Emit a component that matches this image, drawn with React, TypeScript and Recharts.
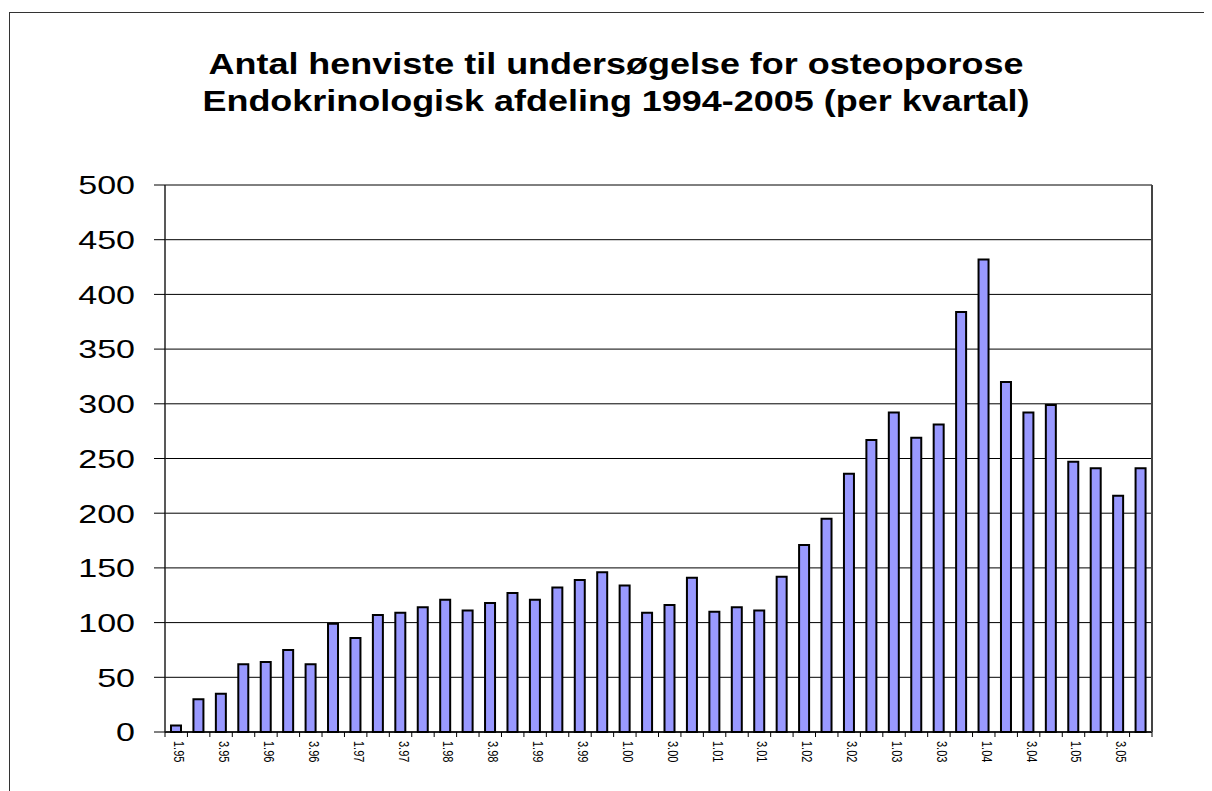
import { BarChart, Bar, XAxis, YAxis, CartesianGrid } from "recharts";

// kvartaler 1995-2005
const quarters = [
  "1.95", "2.95", "3.95", "4.95",
  "1.96", "2.96", "3.96", "4.96",
  "1.97", "2.97", "3.97", "4.97",
  "1.98", "2.98", "3.98", "4.98",
  "1.99", "2.99", "3.99", "4.99",
  "1.00", "2.00", "3.00", "4.00",
  "1.01", "2.01", "3.01", "4.01",
  "1.02", "2.02", "3.02", "4.02",
  "1.03", "2.03", "3.03", "4.03",
  "1.04", "2.04", "3.04", "4.04",
  "1.05", "2.05", "3.05", "4.05",
];

const referrals = [
  6, 30, 35, 62, 64, 75, 62, 99, 86, 107, 109, 114, 121, 111, 118, 127, 121,
  132, 139, 146, 134, 109, 116, 141, 110, 114, 111, 142, 171, 195, 236, 267,
  292, 269, 281, 384, 432, 320, 292, 299, 247, 241, 216, 241,
];

const yTicks = [0, 50, 100, 150, 200, 250, 300, 350, 400, 450, 500];

const titleLines = [
  "Antal henviste til undersøgelse for osteoporose",
  "Endokrinologisk afdeling 1994-2005 (per kvartal)",
];

const data = quarters.map((q, i) => ({ q, n: referrals[i] }));

const PLOT_LEFT = 165;
const PLOT_RIGHT = 1152;
const PLOT_TOP = 185;
const PLOT_BOTTOM = 732;
const BAND = (PLOT_RIGHT - PLOT_LEFT) / quarters.length;
const FONT = "'Liberation Sans', Arial, sans-serif";

const YTick = ({ x, y, payload }: any) => (
  <text
    transform={`translate(${x},${y}) scale(1.31,1)`}
    textAnchor="end"
    dy="0.36em"
    fontSize={26}
    fontFamily={FONT}
    fill="#000"
  >
    {payload.value}
  </text>
);

const XTick = ({ x, y, payload, index }: any) => {
  const right = x + BAND / 2;
  return (
    <g>
      {index === 0 && (
        <line x1={x - BAND / 2} x2={x - BAND / 2} y1={y} y2={y + 5} stroke="#000" />
      )}
      <line x1={right} x2={right} y1={y} y2={y + 5} stroke="#000" />
      {index % 2 === 0 && (
        <text
          transform={`translate(${x - 2},${y + 9}) scale(1.25,1) rotate(90)`}
          fontSize={11}
          fontFamily={FONT}
          fill="#000"
        >
          {payload.value}
        </text>
      )}
    </g>
  );
};

export default function App() {
  return (
    <div
      style={{
        position: "fixed",
        left: 0,
        top: 0,
        width: 1212,
        height: 791,
        background: "#fff",
        overflow: "hidden",
      }}
    >
      <div
        style={{
          position: "absolute",
          left: 9,
          top: 12,
          width: 1194,
          height: 800,
          borderLeft: "1.5px solid #333",
          borderTop: "1.5px solid #333",
        }}
      />
      <svg
        width={1212}
        height={140}
        style={{ position: "absolute", left: 0, top: 0 }}
      >
        {titleLines.map((line, i) => (
          <text
            key={line}
            transform={`translate(616,${74 + i * 37}) scale(1.24,1)`}
            textAnchor="middle"
            fontSize={29}
            fontWeight="bold"
            fontFamily={FONT}
            fill="#000"
          >
            {line}
          </text>
        ))}
      </svg>
      <div style={{ position: "absolute", left: 0, top: 0 }}>
        <BarChart
          width={1212}
          height={791}
          data={data}
          margin={{ top: PLOT_TOP, right: 1212 - PLOT_RIGHT, bottom: 9, left: 65 }}
        >
          <CartesianGrid vertical={false} stroke="#000" />
          <XAxis
            dataKey="q"
            interval={0}
            height={791 - 9 - PLOT_BOTTOM}
            tickLine={false}
            tickSize={0}
            tickMargin={0}
            axisLine={{ stroke: "#000", strokeWidth: 1.5 }}
            tick={<XTick />}
          />
          <YAxis
            domain={[0, 500]}
            ticks={yTicks}
            interval={0}
            width={100}
            tickSize={11}
            tickMargin={19}
            tickLine={{ stroke: "#000" }}
            axisLine={{ stroke: "#222", strokeWidth: 1.5 }}
            tick={<YTick />}
          />
          <Bar
            dataKey="n"
            fill="#9999FF"
            stroke="#000"
            strokeWidth={2}
            barSize={10}
            isAnimationActive={false}
          />
        </BarChart>
      </div>
      <div
        style={{
          position: "absolute",
          left: PLOT_RIGHT - 1,
          top: PLOT_TOP,
          width: 1.5,
          height: PLOT_BOTTOM - PLOT_TOP,
          background: "#444",
        }}
      />
    </div>
  );
}
